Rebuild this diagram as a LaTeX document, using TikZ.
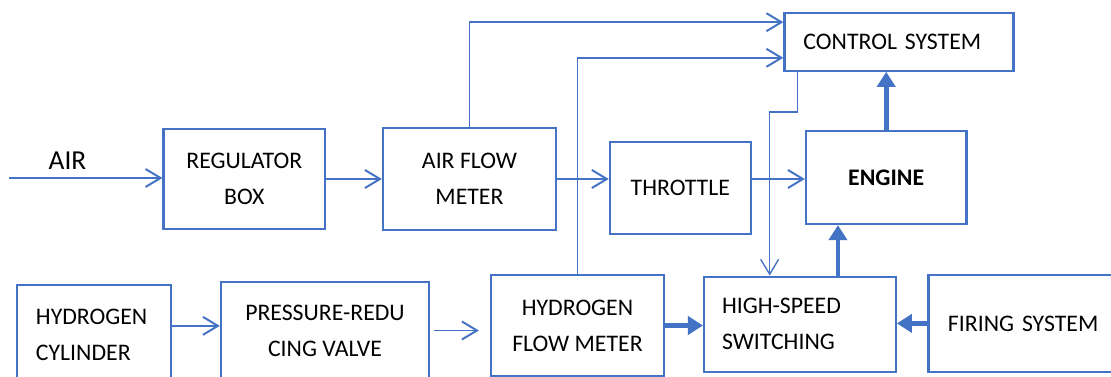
\documentclass[tikz,border=0pt]{standalone}
\usepackage{fontspec}
\setmainfont{Carlito}
\usepackage{tikz}
\usetikzlibrary{arrows.meta,positioning,calc}
\definecolor{flowblue}{RGB}{68,114,196}
\tikzset{
    block/.style={rectangle, draw=flowblue, line width=1.6pt, align=center, inner sep=0pt,
        font={\fontsize{16.9}{25.6}\selectfont}},
    blockL/.style={block, align=left},
    pipe/.style={draw=flowblue, line width=1.4pt, -{Straight Barb[length=0.375cm,width=0.45cm]}},
    thinpipe/.style={pipe, line width=0.95pt},
    power/.style={draw=flowblue, line width=3.5pt, -{Triangle[length=0.375cm,width=0.45cm]}},
}
\begin{document}
\begin{tikzpicture}[x=0.025cm,y=-0.025cm]
    \clip (0,0) rectangle (1111,376);
    \fill[white] (0,0) rectangle (1111,376);

    % air path
    \node[block, minimum width=4.035cm, minimum height=2.5cm] (reg) at (244.3,179) {REGULATOR\\BOX};
    \node[block, minimum width=4.325cm, minimum height=2.55cm] (afm) at (469.5,179) {AIR FLOW\\METER};
    \node[block, minimum width=3.52cm, minimum height=2.3cm] (thr) at (680.3,188) {THROTTLE};
    \node[block, minimum width=4.01cm, minimum height=2.325cm] (eng) at (886.2,177.5) {\textbf{ENGINE}};
    \node[blockL, minimum width=5.725cm, minimum height=1.45cm, text width=4.775cm, inner xsep=0.475cm] (ctrl) at (899,41.7) {CONTROL SYSTEM};

    % hydrogen path
    \node[blockL, minimum width=3.85cm, minimum height=2.5cm, text width=2.9cm, inner xsep=0.475cm] (hcyl) at (94,335) {HYDROGEN\\CYLINDER};
    \node[block, minimum width=5.2cm, minimum height=2.425cm] (prv) at (325,330.5) {PRESSURE-REDU\\CING VALVE};
    \node[block, minimum width=4.325cm, minimum height=2.525cm] (hfm) at (577.5,325.5) {HYDROGEN\\FLOW METER};
    \node[blockL, minimum width=4.79cm, minimum height=2.38cm, text width=3.89cm, inner xsep=0.45cm] (hss) at (799.9,324.3) {HIGH-SPEED\\SWITCHING};
    \node[blockL, minimum width=5.035cm, minimum height=2.42cm, text width=4.065cm, inner xsep=0.485cm] (fire) at (1029.3,323.4) {FIRING SYSTEM};

    % air connectors
    \coordinate (airin) at (9,178);
    \node[font={\fontsize{19.5}{22}\selectfont}] (air) at (67.5,161) {AIR};
    \draw[pipe] (airin) -- (airin -| reg.west);
    \draw[pipe] (reg.east) -- (afm.west);
    \draw[pipe] (afm.east) -- (afm.east -| thr.west);
    \draw[pipe] (afm.east -| thr.east) -- (afm.east -| eng.west);
    \coordinate (ctrlin1) at ($(ctrl.north west)+(0,10.6)$);
    \coordinate (ctrlin2) at ($(ctrl.south west)+(0,-14)$);
    \draw[pipe] (afm.north) |- (ctrlin1);
    \draw[pipe] (hfm.north) |- (ctrlin2);
    \coordinate (ctrlout) at ($(ctrl.south west)+(14.4,0)$);
    \coordinate (hssin) at ($(hss.north west)+(66.7,0)$);
    \draw[thinpipe] (ctrlout) -- ++(0,40.3) -| (hssin);

    % hydrogen connectors
    \coordinate (hcylout) at ($(hcyl.north east)+(0,42)$);
    \draw[pipe] (hcylout) -- (hcylout -| prv.west);
    \draw[pipe, shorten <=2.8pt, shorten >=7.8pt] (prv.east) -- (prv.east -| hfm.west);
    \draw[power] (hfm.east) -- (hfm.east -| hss.west);
    \draw[power] (fire.west) -- (fire.west -| hss.east);
    \coordinate (hssout) at ($(hss.north west)+(135,0)$);
    \draw[power] (hssout) -- (hssout |- eng.south);
    \draw[power] (eng.north) -- (eng.north |- ctrl.south);
\end{tikzpicture}
\end{document}
